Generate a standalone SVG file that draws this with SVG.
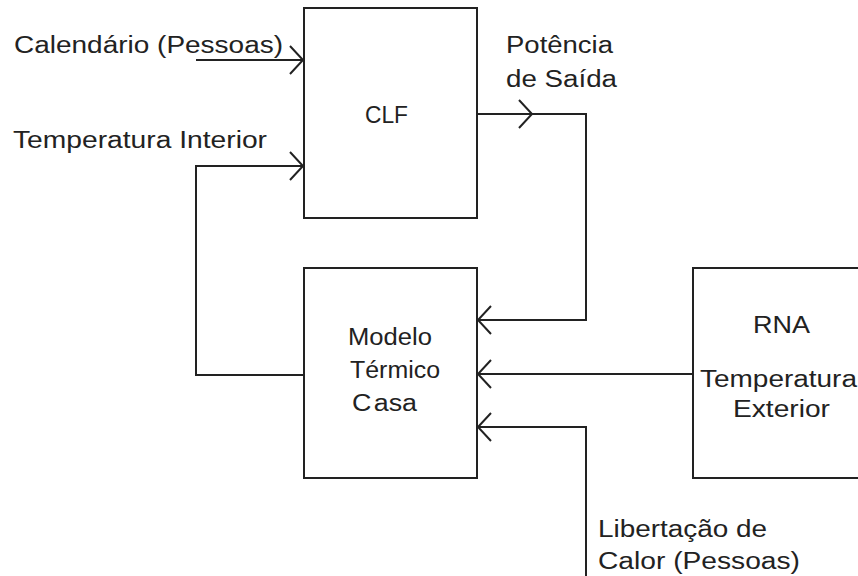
<svg xmlns="http://www.w3.org/2000/svg" width="858" height="576" viewBox="0 0 858 576">
<style>
.box{fill:#fff;stroke:#222;stroke-width:2}
.ln{fill:none;stroke:#222;stroke-width:2}
text{font-family:"Liberation Sans",Arial,sans-serif;font-size:23px;fill:#222}
</style>
<defs>
<marker id="ah" markerUnits="userSpaceOnUse" markerWidth="30" markerHeight="30" viewBox="-15 -15 30 30" refX="0" refY="0" orient="auto" overflow="visible">
<path d="M-13,-14 L0,0 L-13,14" fill="none" stroke="#222" stroke-width="2"/>
</marker>
</defs>
<rect width="858" height="576" fill="#fff"/>
<g id="connectors">
<path class="ln" d="M196,60 L303,60" marker-end="url(#ah)"/>
<path class="ln" d="M304,375 L196,375 L196,166 L303,166" marker-end="url(#ah)"/>
<path class="ln" d="M477,114 L532,114" marker-end="url(#ah)"/>
<path class="ln" d="M530,114 L586,114 L586,320 L478,320" marker-end="url(#ah)"/>
<path class="ln" d="M693,374 L478,374" marker-end="url(#ah)"/>
<path class="ln" d="M586,576 L586,427 L478,427" marker-end="url(#ah)"/>
</g>
<g id="clf">
<rect class="box" x="304" y="8" width="173" height="210"/>
<text x="365" y="123" textLength="43" lengthAdjust="spacingAndGlyphs">CLF</text>
</g>
<g id="modelo">
<rect class="box" x="304" y="268" width="173" height="210"/>
<text x="348" y="345" textLength="84" lengthAdjust="spacingAndGlyphs">Modelo</text>
<text x="350" y="378" textLength="90" lengthAdjust="spacingAndGlyphs">Térmico</text>
<text x="352" y="411" textLength="65" lengthAdjust="spacingAndGlyphs">C<tspan dx="2">asa</tspan></text>
</g>
<g id="rna">
<rect class="box" x="693" y="268" width="175" height="210"/>
<text x="753" y="333" textLength="57" lengthAdjust="spacingAndGlyphs">RNA</text>
<text x="700" y="387" textLength="157" lengthAdjust="spacingAndGlyphs">Temperatura</text>
<text x="733" y="417" textLength="97" lengthAdjust="spacingAndGlyphs">Exterior</text>
</g>
<g id="labels">
<text x="14" y="53" textLength="269" lengthAdjust="spacingAndGlyphs">Calendário (Pessoas)</text>
<text x="13" y="148" textLength="254" lengthAdjust="spacingAndGlyphs">Temperatura Interior</text>
<text x="506" y="53" textLength="107" lengthAdjust="spacingAndGlyphs">Potência</text>
<text x="506" y="87" textLength="111" lengthAdjust="spacingAndGlyphs">de Saída</text>
<text x="598" y="537" textLength="169" lengthAdjust="spacingAndGlyphs">Libertação de</text>
<text x="598" y="569" textLength="202" lengthAdjust="spacingAndGlyphs">Calor (Pessoas)</text>
</g>
</svg>
